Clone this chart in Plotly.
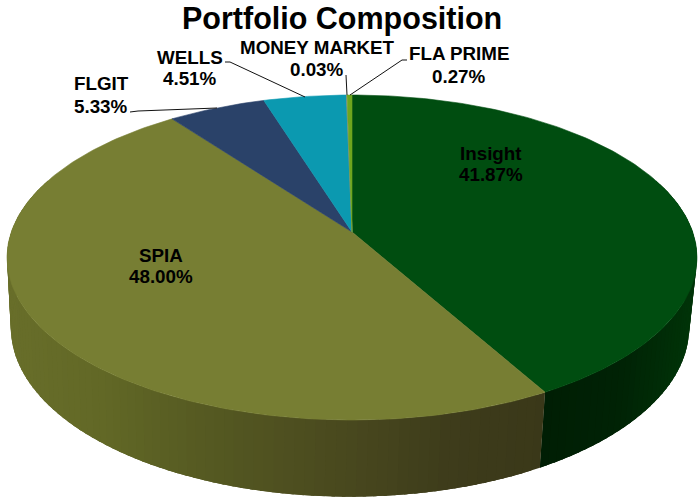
import math
import numpy as np
import plotly.graph_objects as go

names = ["Insight", "SPIA", "FLGIT", "WELLS", "MONEY MARKET", "FLA PRIME"]
values = [41.87, 48.00, 5.33, 4.51, 0.03, 0.27]
pct_text = ["41.87%", "48.00%", "5.33%", "4.51%", "0.03%", "0.27%"]
top_colors = ["#004D10", "#777E33", "#2A4269", "#0B99B0", "#8A8F8A", "#6FA51E"]
# side shading stops: (screen x, colour) per slice that shows a side
side_stops = {
    "Insight": [(540, (0, 30, 4)), (620, (0, 34, 5)), (697, (0, 52, 8))],
    "SPIA": [(8, (104, 110, 42)), (100, (98, 104, 38)), (200, (86, 90, 34)),
             (350, (72, 72, 30)), (450, (62, 60, 27)), (545, (58, 56, 25))],
}
title_text = "Portfolio Composition"
label_x = [491, 161, 101, 190, 317, 459]
name_y = [153, 255, 83, 57, 47, 53]
pct_y = [174, 276, 106, 78, 69, 76]
leaders = [
    [(225, 62), (230, 62), (305, 97)],
    [(130, 112), (138, 111), (217, 108)],
    [(346, 75), (347, 95)],
    [(407, 60), (402, 60), (350, 95)],
]

# perspective disc model (screen pixels)
K = 0.157
TOP = dict(x0=352, y0=232, a=340.7, b=158.5)
BOT = dict(x0=350, y0=301, a=335, b=165)


def project(deg, disc):
    t = np.radians(deg)
    u, v = np.sin(t), np.cos(t)
    w = 1 + K * v
    return disc["x0"] + disc["a"] * u / w, disc["y0"] - disc["b"] * v / w


def ramp(stops, x):
    xs = [s[0] for s in stops]
    rgb = [int(round(np.interp(x, xs, [s[1][i] for s in stops]))) for i in range(3)]
    return "rgb(%d,%d,%d)" % tuple(rgb)


total = sum(values)
edges = [0.0]
for val in values:
    edges.append(edges[-1] + val / total * 360)

fig = go.Figure()


def poly(xs, ys, color, width=0.6):
    fig.add_trace(go.Scatter(
        x=list(xs), y=list(ys), mode="lines", fill="toself", fillcolor=color,
        line=dict(color=color, width=width), hoverinfo="skip", showlegend=False))


# sides: each quad overlaps the next one so no seams show
for i, name in enumerate(names):
    if name not in side_stops:
        continue
    lo, hi = max(edges[i], 70), min(edges[i + 1], 290)
    steps = int((hi - lo) / 1.5) + 1
    grid = np.linspace(lo, hi, steps + 1)
    for d0, d1 in zip(grid[:-1], grid[1:]):
        d_over = np.linspace(d0, min(d1 + 2.0, hi), 5)
        tx, ty = project(d_over, TOP)
        bx, by = project(d_over[::-1], BOT)
        xs = list(tx) + list(bx) + [tx[0]]
        ys = list(ty) + list(by) + [ty[0]]
        mid_x = (project(d0, TOP)[0] + project(d1, TOP)[0]) / 2
        poly(xs, ys, ramp(side_stops[name], mid_x), width=0)

# top faces
for i, name in enumerate(names):
    grid = np.linspace(edges[i], edges[i + 1], max(3, int(values[i] * 3.6)) + 2)
    ex, ey = project(grid, TOP)
    xs = [TOP["x0"]] + list(ex) + [TOP["x0"]]
    ys = [TOP["y0"]] + list(ey) + [TOP["y0"]]
    poly(xs, ys, top_colors[i])

FONT = "Liberation Sans, Arial, sans-serif"
annotations = [dict(x=342, y=18, text="<b>%s</b>" % title_text, showarrow=False,
                    font=dict(family=FONT, size=30.5, color="black"))]
for i, name in enumerate(names):
    for txt, yy in ((name, name_y[i]), (pct_text[i], pct_y[i])):
        annotations.append(dict(x=label_x[i], y=yy, text="<b>%s</b>" % txt, showarrow=False,
                                font=dict(family=FONT, size=18.8, color="black")))

for pts in leaders:
    fig.add_trace(go.Scatter(x=[p[0] for p in pts], y=[p[1] for p in pts], mode="lines",
                             line=dict(color="#111111", width=1), hoverinfo="skip",
                             showlegend=False))

fig.update_layout(
    width=698, height=498, margin=dict(l=0, r=0, t=0, b=0),
    paper_bgcolor="white", plot_bgcolor="white", showlegend=False,
    xaxis=dict(range=[0, 698], visible=False, fixedrange=True),
    yaxis=dict(range=[498, 0], visible=False, fixedrange=True),
    annotations=annotations,
)
fig.write_html("out.html", config=dict(displayModeBar=False),
               post_script="document.body.style.margin='0';document.body.style.overflow='hidden';")
